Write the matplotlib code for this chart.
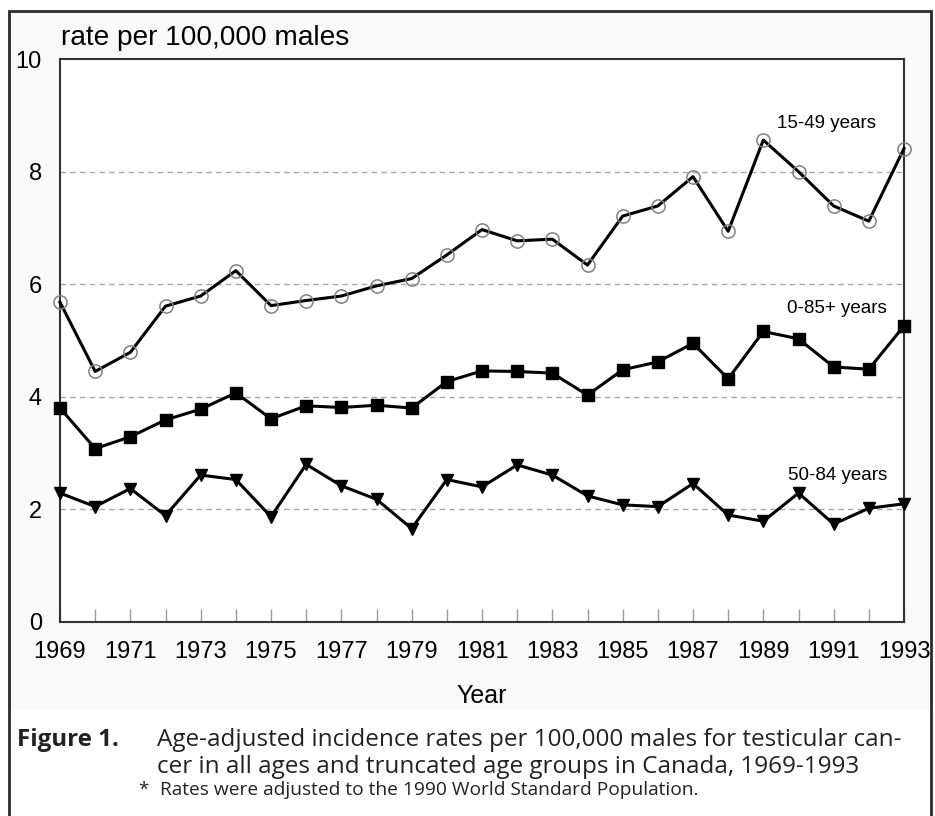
import matplotlib
matplotlib.use("Agg")
import matplotlib.pyplot as plt
from matplotlib.patches import Rectangle
import numpy as np

years = list(range(1969, 1994))

# age-adjusted rates per 100,000 males
rate_15_49 = [5.68, 4.45, 4.79, 5.61, 5.79, 6.24, 5.62, 5.71, 5.79, 5.97, 6.10, 6.52,
              6.97, 6.77, 6.80, 6.34, 7.21, 7.39, 7.91, 6.94, 8.56, 8.00, 7.39, 7.12, 8.41]
rate_all = [3.80, 3.08, 3.29, 3.59, 3.78, 4.07, 3.61, 3.84, 3.81, 3.85, 3.80, 4.27,
            4.46, 4.45, 4.42, 4.03, 4.48, 4.62, 4.95, 4.32, 5.16, 5.03, 4.53, 4.49, 5.26]
rate_50_84 = [2.29, 2.05, 2.37, 1.89, 2.61, 2.53, 1.87, 2.80, 2.42, 2.18, 1.66, 2.53,
              2.40, 2.79, 2.61, 2.24, 2.08, 2.05, 2.46, 1.90, 1.79, 2.29, 1.74, 2.02, 2.10]

y_ticks = [0, 2, 4, 6, 8, 10]
x_labels = [str(y) if (y - 1969) % 2 == 0 else "" for y in years]

W, H = 935, 816
plt.rcParams["font.family"] = ["Liberation Sans", "DejaVu Sans"]


def fx(px):
    return px / W


def fy(py):
    return 1 - py / H


fig = plt.figure(figsize=(W / 100, H / 100), dpi=100)
fig.patch.set_facecolor("white")

# light panel behind the chart and outer frame
fig.patches.append(Rectangle((fx(9), fy(710)), fx(922), 699 / H, transform=fig.transFigure,
                             facecolor="#f9f9f9", edgecolor="none", zorder=-1))
fig.patches.append(Rectangle((fx(9), fy(830)), fx(922), 819 / H, transform=fig.transFigure,
                             facecolor="none", edgecolor="#2a2a2a", lw=2.0, zorder=5))

ax = fig.add_axes([fx(60), fy(622), fx(844), (622 - 59) / H])
ax.set_zorder(2)
ax.set_facecolor("white")

ax.plot(years, rate_15_49, "-", color="black", lw=2.2, marker="o", ms=9.5,
        mfc="none", mec="#808080", mew=1.1, zorder=3, clip_on=False)
ax.plot(years, rate_all, "-", color="black", lw=2.2, marker="s", ms=8,
        mfc="black", mec="black", zorder=3, clip_on=False)
ax.plot(years, rate_50_84, "-", color="black", lw=2.2, marker="v", ms=9,
        mfc="black", mec="black", zorder=3, clip_on=False)

for yv in y_ticks[1:-1]:
    ax.axhline(yv, color="#a8a8a8", lw=1.0, ls=(0, (4, 3)), zorder=1)

ax.set_xlim(1969, 1993)
ax.set_ylim(0, 10)
ax.set_xticks(years)
ax.set_xticklabels(x_labels, fontsize=17)
ax.set_yticks(y_ticks)
ax.set_yticklabels([str(v) for v in y_ticks], fontsize=17)
ax.tick_params(axis="x", direction="in", length=9.5, width=1.0, color="#999999", pad=14)
ax.tick_params(axis="y", length=0, pad=13)
for side in ["left", "bottom", "top", "right"]:
    ax.spines[side].set_color("#333333")
    ax.spines[side].set_linewidth(1.5)

ax.set_xlabel("Year", fontsize=18, labelpad=15)

ax.text(1990.8, 8.85, "15-49 years", fontsize=13.5, ha="center", va="center")
ax.text(1991.1, 5.56, "0-85+ years", fontsize=13.5, ha="center", va="center")
ax.text(1991.1, 2.61, "50-84 years", fontsize=13.5, ha="center", va="center")

fig.text(fx(61), fy(45), "rate per 100,000 males", fontsize=20.2, ha="left", va="baseline")

cap_font = ["Open Sans", "DejaVu Sans"]
fig.text(fx(17), fy(740), "Figure 1.", fontsize=17.4, fontweight="bold", family=cap_font,
         ha="left", va="center", color="#222222")
fig.text(fx(157), fy(740), "Age-adjusted incidence rates per 100,000 males for testicular can-",
         fontsize=17.5, family=cap_font, ha="left", va="center", color="#222222")
fig.text(fx(157), fy(767), "cer in all ages and truncated age groups in Canada, 1969-1993",
         fontsize=17.5, family=cap_font, ha="left", va="center", color="#222222")
fig.text(fx(138), fy(790), "*", fontsize=13.5, family=cap_font, ha="left", va="center",
         color="#222222")
fig.text(fx(160), fy(790), "Rates were adjusted to the 1990 World Standard Population.",
         fontsize=13.8, family=cap_font, ha="left", va="center", color="#222222")

fig.savefig("out.png", dpi=100)
